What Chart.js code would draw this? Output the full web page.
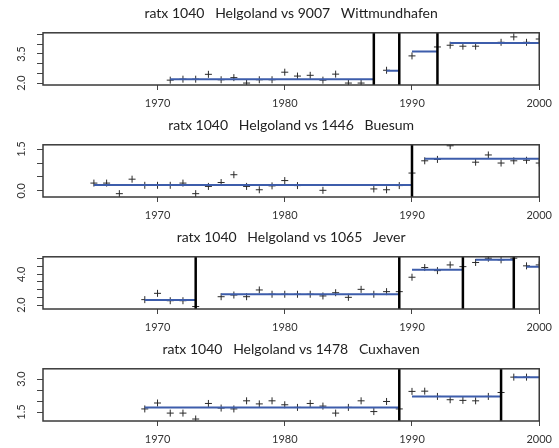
<!DOCTYPE html>
<html>
<head>
<meta charset="utf-8">
<script src="https://cdn.jsdelivr.net/npm/chart.js@4.4.1/dist/chart.umd.min.js"></script>
<style>
  body { margin: 0; background: #fff; }
  canvas { display: block; }
</style>
</head>
<body>
<canvas id="c0" width="559" height="112"></canvas>
<canvas id="c1" width="559" height="112"></canvas>
<canvas id="c2" width="559" height="112"></canvas>
<canvas id="c3" width="559" height="112"></canvas>
<script>
// years 1965..2000, one value per year (null = no data)
const years = [1965,1966,1967,1968,1969,1970,1971,1972,1973,1974,1975,1976,1977,1978,1979,1980,1981,1982,
  1983,1984,1985,1986,1987,1988,1989,1990,1991,1992,1993,1994,1995,1996,1997,1998,1999,2000];

const wittmund = [null,null,null,null,null,null,2.15,2.2,2.2,2.45,2.17,2.28,2.0,2.17,2.17,2.56,2.36,2.4,
  2.15,2.46,2.0,2.0,null,2.66,null,3.4,null,3.86,3.95,3.9,3.9,null,4.1,4.38,4.1,4.27];
const buesum = [0.28,0.28,-0.1,0.42,0.2,0.2,0.2,0.28,-0.1,0.16,0.3,0.58,0.16,0.04,0.18,0.37,0.19,null,
  0.02,null,null,null,0.07,0.04,0.19,0.64,1.08,1.13,1.62,null,1.03,1.29,1.0,1.08,1.1,1.0];
const jever = [null,null,null,null,2.35,2.76,2.28,2.28,1.9,null,2.54,2.65,2.54,2.98,2.7,2.7,2.7,2.7,
  2.59,2.8,2.5,3.02,2.7,2.87,2.87,3.81,4.44,4.24,4.61,4.5,4.77,5.05,4.94,5.05,4.55,4.61];
const cuxhaven = [null,null,null,null,1.64,1.91,1.45,1.45,1.18,1.89,1.68,1.64,2.01,1.87,2.01,1.83,1.71,1.89,
  1.77,1.45,1.71,2.01,1.52,1.98,1.64,2.44,2.45,2.21,2.06,2.03,2.01,2.21,2.39,3.09,3.09,null];

// homogeneous segments: start year, end year, level
const segStart = [[1971,1988,1990,1993],[1965,1991],[1969,1975,1990,1995,1999],[1969,1990,1998]];
const segEnd   = [[1987,1989,1992,2000],[1990,2000],[1973,1989,1994,1998,2000],[1989,1997,2000]];
const segLevel = [[2.2,2.64,3.63,4.07],[0.21,1.15],[2.33,2.7,4.29,4.94,4.5],[1.71,2.21,3.09]];

// detected break years
const breaks = [[1987,1989,1992],[1990],[1973,1989,1994,1998],[1989,1997]];

const titles = [
  'ratx 1040   Helgoland vs 9007   Wittmundhafen',
  'ratx 1040   Helgoland vs 1446   Buesum',
  'ratx 1040   Helgoland vs 1065   Jever',
  'ratx 1040   Helgoland vs 1478   Cuxhaven'
];

const xTicks = [1970, 1980, 1990, 2000];
const yMin = [1.9, -0.22, 1.74, 1.09];
const yMax = [4.59, 1.655, 5.14, 3.47];
const yTicks = [[2.0,2.5,3.0,3.5,4.0,4.5],[0.0,0.5,1.0,1.5],[2.0,2.5,3.0,3.5,4.0,4.5,5.0],[1.5,2.0,2.5,3.0]];
const yTickLabels = [['2.0','','','3.5','',''],['0.0','','','1.5'],['2.0','','','','4.0','',''],['1.5','','','3.0']];

const series = [wittmund, buesum, jever, cuxhaven];

const frameAndLabels = {
  id: 'frameAndLabels',
  afterDraw(chart, args, opts) {
    const ctx = chart.ctx;
    const a = chart.chartArea;
    ctx.save();
    ctx.strokeStyle = '#3a3a3a';
    ctx.lineWidth = 1.5;
    ctx.strokeRect(a.left, a.top, a.right - a.left, a.bottom - a.top);
    const y = chart.scales.y;
    ctx.fillStyle = '#333';
    ctx.font = '11px Lato';
    ctx.textAlign = 'center';
    ctx.textBaseline = 'middle';
    opts.ticks.forEach((v, i) => {
      const txt = opts.labels[i];
      if (!txt) return;
      ctx.save();
      ctx.translate(21, y.getPixelForValue(v));
      ctx.rotate(-Math.PI / 2);
      ctx.fillText(txt, 0, 0);
      ctx.restore();
    });
    ctx.restore();
  }
};

series.forEach((vals, k) => {
  const datasets = [];
  datasets.push({
    type: 'scatter',
    data: years.map((yr, i) => ({x: yr, y: vals[i]})).filter(p => p.y !== null),
    pointStyle: 'cross',
    pointRadius: 3.5,
    borderColor: '#2a2a2a',
    borderWidth: 1,
    order: 3
  });
  segStart[k].forEach((s, j) => {
    datasets.push({
      type: 'line',
      data: [{x: s, y: segLevel[k][j]}, {x: segEnd[k][j], y: segLevel[k][j]}],
      borderColor: '#3d5dab',
      borderWidth: 2,
      pointRadius: 0,
      order: 2
    });
  });
  breaks[k].forEach(b => {
    datasets.push({
      type: 'line',
      data: [{x: b, y: yMin[k]}, {x: b, y: yMax[k]}],
      borderColor: '#000',
      borderWidth: 2.5,
      pointRadius: 0,
      order: 1
    });
  });

  new Chart(document.getElementById('c' + k), {
    type: 'scatter',
    data: {datasets: datasets},
    options: {
      responsive: false,
      animation: false,
      devicePixelRatio: 1,
      layout: {padding: {top: 0, right: 17, left: 0, bottom: 0}},
      plugins: {
        legend: {display: false},
        tooltip: {enabled: false},
        title: {
          display: true,
          text: titles[k],
          fullSize: false,
          color: '#222',
          font: {family: 'Lato', size: 14, weight: 'normal'},
          padding: {top: 5, bottom: 11}
        },
        frameAndLabels: {ticks: yTicks[k], labels: yTickLabels[k]}
      },
      scales: {
        x: {
          type: 'linear',
          min: 1961,
          max: 2000,
          afterBuildTicks: s => { s.ticks = xTicks.map(v => ({value: v})); },
          afterFit: s => { s.height = 27; },
          border: {display: false},
          grid: {drawOnChartArea: false, drawTicks: true, tickLength: 5, color: '#444', lineWidth: 1},
          ticks: {color: '#333', font: {family: 'Lato', size: 11}, padding: 7, maxRotation: 0, autoSkip: false,
            callback: v => String(v)}
        },
        y: {
          type: 'linear',
          min: yMin[k],
          max: yMax[k],
          afterBuildTicks: s => { s.ticks = yTicks[k].map(v => ({value: v})); },
          afterFit: s => { s.width = 43; },
          border: {display: false},
          grid: {drawOnChartArea: false, drawTicks: true, tickLength: 6, color: '#444', lineWidth: 1},
          ticks: {display: false}
        }
      }
    },
    plugins: [frameAndLabels]
  });
});
</script>
</body>
</html>
